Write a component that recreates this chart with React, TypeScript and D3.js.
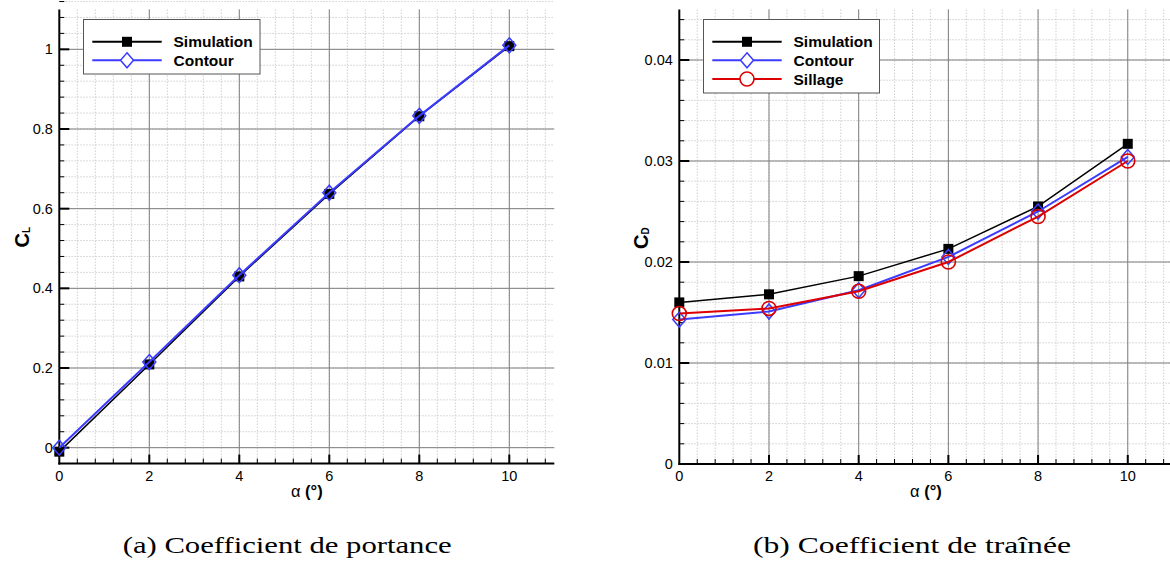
import React from "react";
import * as d3 from "d3";

// ---------- data ----------
const alpha = [0, 2, 4, 6, 8, 10];
const clSimulation = [-0.01, 0.209, 0.43, 0.637, 0.832, 1.008];
const clContour = [0.0, 0.215, 0.433, 0.64, 0.833, 1.01];
const cdSimulation = [0.016, 0.0168, 0.0186, 0.0213, 0.0255, 0.0317];
const cdContour = [0.0143, 0.0151, 0.0172, 0.0205, 0.025, 0.0304];
const cdSillage = [0.0149, 0.0154, 0.0171, 0.02, 0.0245, 0.03];

const xTicks = [0, 2, 4, 6, 8, 10];
const xTickLabels = ["0", "2", "4", "6", "8", "10"];
const clTicks = [0, 0.2, 0.4, 0.6, 0.8, 1];
const clTickLabels = ["0", "0.2", "0.4", "0.6", "0.8", "1"];
const cdTicks = [0, 0.01, 0.02, 0.03, 0.04];
const cdTickLabels = ["0", "0.01", "0.02", "0.03", "0.04"];

const legendLeft = ["Simulation", "Contour"];
const legendRight = ["Simulation", "Contour", "Sillage"];
const captionLeft = "(a) Coefficient de portance";
const captionRight = "(b) Coefficient de traînée";

const BLACK = "#000000";
const BLUE = "#3b3bff";
const RED = "#dd0000";
const SANS = "Arial, 'Liberation Sans', Helvetica, sans-serif";
const SERIF = "'Times New Roman', 'Liberation Serif', Times, serif";

type Kind = "square" | "diamond" | "circle";

function Marker({ kind, x, y, color, fill }: { kind: Kind; x: number; y: number; color: string; fill?: string }) {
  if (kind === "square") return <rect x={x - 5} y={y - 5} width={10} height={10} fill={color} />;
  if (kind === "diamond")
    return (
      <path
        d={`M${x},${y - 7.5} L${x + 6.5},${y} L${x},${y + 7.5} L${x - 6.5},${y} Z`}
        fill={fill || "none"}
        stroke={color}
        strokeWidth={1.5}
      />
    );
  return <circle cx={x} cy={y} r={7} fill={fill || "none"} stroke={color} strokeWidth={1.6} />;
}

function rangeStep(a: number, b: number, s: number) {
  const out: number[] = [];
  const n = Math.round((b - a) / s);
  for (let i = 0; i <= n; i++) out.push(+(a + i * s).toFixed(6));
  return out;
}

interface Series {
  values: number[];
  color: string;
  width: number;
  kind: Kind;
}

interface PanelProps {
  x0: number;
  x1: number;
  yTop: number;
  yBottom: number;
  yDomain: [number, number];
  yTicks: number[];
  yTickLabels: string[];
  yMinorStep: number;
  yMinorStart: number;
  series: Series[];
  legendNames: string[];
  legendBox: [number, number, number, number];
  legendRows: number[];
  legendLine: [number, number];
  legendText: number;
  ylabelX: number;
  ylabelY: number;
  ylabelSub: string;
  xlabelY: number;
}

function Panel(p: PanelProps) {
  const x = d3.scaleLinear().domain([0, 11]).range([p.x0, p.x1]);
  const y = d3.scaleLinear().domain(p.yDomain).range([p.yBottom, p.yTop]);
  const xMinor = rangeStep(0, 10.8, 0.4).filter((v) => v > 0);
  const yMinor = rangeStep(p.yMinorStart, p.yDomain[1], p.yMinorStep).filter((v) => v > p.yDomain[0]);
  const line = d3
    .line<number>()
    .x((_, i) => x(alpha[i]))
    .y((d) => y(d));
  const xMid = (p.x0 + p.x1) / 2;
  const sans = { fontFamily: SANS };
  return (
    <g>
      {/* minor grid */}
      {xMinor.map((v) => (
        <line key={"mx" + v} x1={x(v)} x2={x(v)} y1={p.yTop} y2={p.yBottom} stroke="#cfcfcf" strokeWidth={1} strokeDasharray="1.5,1.5" />
      ))}
      {yMinor.map((v) => (
        <line key={"my" + v} x1={p.x0} x2={p.x1} y1={y(v)} y2={y(v)} stroke="#cfcfcf" strokeWidth={1} strokeDasharray="1.5,1.5" />
      ))}
      {/* major grid */}
      {xTicks.filter((v) => v > 0).map((v) => (
        <line key={"gx" + v} x1={x(v)} x2={x(v)} y1={p.yTop} y2={p.yBottom} stroke="#7f7f7f" strokeWidth={1} />
      ))}
      {p.yTicks.filter((v) => v > p.yDomain[0] + 1e-9 && y(v) < p.yBottom - 2).map((v) => (
        <line key={"gy" + v} x1={p.x0} x2={p.x1} y1={y(v)} y2={y(v)} stroke="#7f7f7f" strokeWidth={1} />
      ))}
      {/* axes */}
      <line x1={p.x0} x2={p.x0} y1={p.yTop} y2={p.yBottom + 1} stroke="#000" strokeWidth={2} />
      <line x1={p.x0 - 1} x2={p.x1} y1={p.yBottom} y2={p.yBottom} stroke="#000" strokeWidth={2} />
      {/* x ticks */}
      {xTicks.filter((v) => v > 0).map((v) => (
        <line key={"tx" + v} x1={x(v)} x2={x(v)} y1={p.yBottom} y2={p.yBottom - 9} stroke="#000" strokeWidth={2} />
      ))}
      {xMinor.filter((v) => !xTicks.includes(v)).map((v) => (
        <line key={"tmx" + v} x1={x(v)} x2={x(v)} y1={p.yBottom} y2={p.yBottom - 5} stroke="#000" strokeWidth={1} />
      ))}
      {/* y ticks */}
      {p.yTicks.map((v) => (
        <line key={"ty" + v} x1={p.x0} x2={p.x0 + 10} y1={y(v)} y2={y(v)} stroke="#000" strokeWidth={2} />
      ))}
      {yMinor.filter((v) => !p.yTicks.some((t) => Math.abs(t - v) < 1e-9)).map((v) => (
        <line key={"tmy" + v} x1={p.x0} x2={p.x0 + 5} y1={y(v)} y2={y(v)} stroke="#000" strokeWidth={1} />
      ))}
      {/* tick labels */}
      {xTicks.map((v, i) => (
        <text key={"lx" + v} x={x(v)} y={p.yBottom + 17} textAnchor="middle" style={sans} fontSize={14.5}>
          {xTickLabels[i]}
        </text>
      ))}
      {p.yTicks.map((v, i) => (
        <text key={"ly" + v} x={p.x0 - 6.5} y={y(v) + 5} textAnchor="end" style={sans} fontSize={14.5}>
          {p.yTickLabels[i]}
        </text>
      ))}
      {/* axis labels */}
      <text x={xMid} y={p.xlabelY} textAnchor="middle" style={sans} fontSize={16.5}>
        <tspan>α</tspan>
        <tspan fontWeight="bold"> (°)</tspan>
      </text>
      <text
        transform={`translate(${p.ylabelX},${p.ylabelY}) rotate(-90)`}
        style={sans}
        fontWeight="bold"
        fontSize={20}
      >
        <tspan>C</tspan>
        <tspan fontSize={10} dy={1}>
          {p.ylabelSub}
        </tspan>
      </text>
      {/* series */}
      {p.series.map((s, si) => (
        <g key={"s" + si}>
          <path d={line(s.values) || ""} fill="none" stroke={s.color} strokeWidth={s.width} />
          {s.values.map((v, i) => (
            <Marker key={i} kind={s.kind} x={x(alpha[i])} y={y(v)} color={s.color} />
          ))}
        </g>
      ))}
      {/* legend */}
      <rect
        x={p.legendBox[0]}
        y={p.legendBox[1]}
        width={p.legendBox[2]}
        height={p.legendBox[3]}
        fill="#fff"
        stroke="#555"
        strokeWidth={1}
      />
      {p.legendNames.map((name, i) => {
        const s = p.series[i];
        const cy = p.legendRows[i];
        const mx = (p.legendLine[0] + p.legendLine[1]) / 2;
        return (
          <g key={"lg" + i}>
            <line x1={p.legendLine[0]} x2={p.legendLine[1]} y1={cy} y2={cy} stroke={s.color} strokeWidth={2} />
            <Marker kind={s.kind} x={mx} y={cy} color={s.color} fill="#fff" />
            <text x={p.legendText} y={cy + 5.5} style={sans} fontWeight="bold" fontSize={15.5}>
              {name}
            </text>
          </g>
        );
      })}
    </g>
  );
}

export default function App() {
  return (
    <svg
      width={1170}
      height={563}
      viewBox="0 0 1170 563"
      style={{ position: "absolute", left: 0, top: 0, background: "#fff" }}
    >
      <rect x={0} y={0} width={1170} height={563} fill="#fff" />
      <Panel
        x0={59.3}
        x1={554.3}
        yTop={9.5}
        yBottom={463.6}
        yDomain={[-0.04, 1.1]}
        yTicks={clTicks}
        yTickLabels={clTickLabels}
        yMinorStep={0.04}
        yMinorStart={0}
        series={[
          { values: clSimulation, color: BLACK, width: 1.5, kind: "square" },
          { values: clContour, color: BLUE, width: 2, kind: "diamond" },
        ]}
        legendNames={legendLeft}
        legendBox={[83.5, 19.5, 176.5, 54.5]}
        legendRows={[41.8, 60.3]}
        legendLine={[92.3, 161.7]}
        legendText={173.5}
        ylabelX={28.5}
        ylabelY={247.5}
        ylabelSub="L"
        xlabelY={497}
      />
      <Panel
        x0={679.3}
        x1={1172.6}
        yTop={9.5}
        yBottom={464}
        yDomain={[0, 0.045]}
        yTicks={cdTicks}
        yTickLabels={cdTickLabels}
        yMinorStep={0.002}
        yMinorStart={0}
        series={[
          { values: cdSimulation, color: BLACK, width: 1.5, kind: "square" },
          { values: cdContour, color: BLUE, width: 2, kind: "diamond" },
          { values: cdSillage, color: RED, width: 2, kind: "circle" },
        ]}
        legendNames={legendRight}
        legendBox={[703.5, 19.5, 176, 73.5]}
        legendRows={[41.8, 60.3, 79]}
        legendLine={[712.3, 781.7]}
        legendText={793.5}
        ylabelX={647.5}
        ylabelY={249}
        ylabelSub="D"
        xlabelY={497}
      />
      <text
        x={287.2}
        y={553.3}
        textAnchor="middle"
        style={{ fontFamily: SERIF }}
        fontSize={24}
        textLength={329}
        lengthAdjust="spacingAndGlyphs"
      >
        {captionLeft}
      </text>
      <text
        x={912}
        y={553.3}
        textAnchor="middle"
        style={{ fontFamily: SERIF }}
        fontSize={24}
        textLength={318}
        lengthAdjust="spacingAndGlyphs"
      >
        {captionRight}
      </text>
    </svg>
  );
}
